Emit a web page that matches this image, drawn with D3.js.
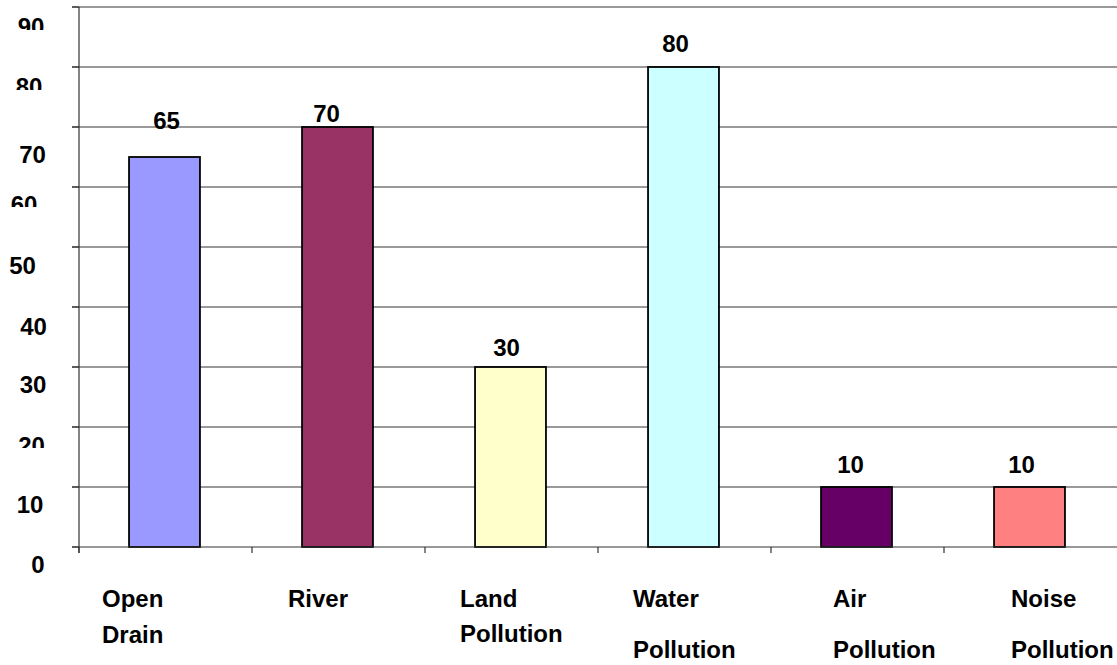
<!DOCTYPE html>
<html>
<head>
<meta charset="utf-8">
<script src="https://cdn.jsdelivr.net/npm/d3@7"></script>
<style>
  html, body { margin: 0; padding: 0; background: #fff; }
  svg { display: block; }
  text { font-family: "Liberation Sans", Arial, sans-serif; font-weight: bold; font-size: 24px; fill: #000; }
</style>
</head>
<body>
<svg id="chart" width="1117" height="665"></svg>
<script>
// Sources of pollution, percentage of responses
const categories = ["Open Drain", "River", "Land Pollution", "Water Pollution", "Air Pollution", "Noise Pollution"];
const categoryLines = [["Open", "Drain"], ["River"], ["Land", "Pollution"], ["Water", "Pollution"], ["Air", "Pollution"], ["Noise", "Pollution"]];
const values = [65, 70, 30, 80, 10, 10];
const barColors = ["#9999FF", "#993366", "#FFFFCC", "#CCFFFF", "#660066", "#FF8080"];
const yTicks = [0, 10, 20, 30, 40, 50, 60, 70, 80, 90];

const svg = d3.select("#chart");
const plotLeft = 79, plotRight = 1117, plotTop = 7, plotBottom = 547;

const x = d3.scaleBand().domain(categories).range([plotLeft, plotRight]).padding(0);
const y = d3.scaleLinear().domain([0, 90]).range([plotBottom, plotTop]);
const barW = x.bandwidth() * 0.41;

// horizontal gridlines
svg.append("g").selectAll("line")
  .data(yTicks.filter(t => t > 0))
  .join("line")
  .attr("x1", plotLeft - 7).attr("x2", plotRight)
  .attr("y1", d => y(d)).attr("y2", d => y(d))
  .attr("stroke", "#777").attr("stroke-width", 1.3);

// bars
svg.append("g").selectAll("rect")
  .data(values)
  .join("rect")
  .attr("x", (d, i) => x(categories[i]) + (x.bandwidth() - barW) / 2 - 1)
  .attr("y", d => y(d))
  .attr("width", barW)
  .attr("height", d => y(0) - y(d))
  .attr("fill", (d, i) => barColors[i])
  .attr("stroke", "#000").attr("stroke-width", 1.8);

// y axis line, ticks and baseline
const axis = svg.append("g").attr("stroke", "#333").attr("stroke-width", 1.2);
axis.append("line").attr("x1", plotLeft).attr("x2", plotLeft).attr("y1", plotTop).attr("y2", plotBottom + 6);
axis.append("line").attr("x1", plotLeft - 7).attr("x2", plotRight).attr("y1", y(0)).attr("y2", y(0));
axis.selectAll(".yt").data(yTicks).join("line")
  .attr("x1", plotLeft - 7).attr("x2", plotLeft)
  .attr("y1", d => y(d)).attr("y2", d => y(d));
axis.selectAll(".xt").data(categories).join("line")
  .attr("x1", d => x(d)).attr("x2", d => x(d))
  .attr("y1", plotBottom).attr("y2", plotBottom + 6);

// y tick labels (some are partially hidden by the frame of the label area)
const yLabelPos = {
  0:  { cx: 38, dy: 26 },
  10: { cx: 30, dy: 26 },
  20: { cx: 31.5, dy: 27, clipTo: 448 },
  30: { cx: 33, dy: 26 },
  40: { cx: 33.5, dy: 28 },
  50: { cx: 22.5, dy: 27 },
  60: { cx: 24, dy: 26, clipTo: 207 },
  70: { cx: 32.5, dy: 36 },
  80: { cx: 29, dy: 28, clipTo: 90 },
  90: { cx: 31, dy: 28, clipTo: 30 }
};
const defs = svg.append("defs");
yTicks.forEach(t => {
  const p = yLabelPos[t];
  const txt = svg.append("text")
    .attr("x", p.cx).attr("y", y(t) + p.dy)
    .attr("text-anchor", "middle")
    .text(t);
  if (p.clipTo !== undefined) {
    const id = "clip" + t;
    defs.append("clipPath").attr("id", id)
      .append("rect").attr("x", 0).attr("y", y(t)).attr("width", 70).attr("height", p.clipTo - y(t));
    txt.attr("clip-path", `url(#${id})`);
  }
});

// value labels above bars
const valueLabelShift = [{ dx: 2, dy: -28 }, { dx: -11, dy: -5 }, { dx: -4, dy: -11 }, { dx: -8, dy: -15 }, { dx: -6, dy: -14 }, { dx: -8, dy: -14 }];
svg.append("g").selectAll("text")
  .data(values)
  .join("text")
  .attr("text-anchor", "middle")
  .attr("x", (d, i) => x(categories[i]) + x.bandwidth() / 2 - 1 + valueLabelShift[i].dx)
  .attr("y", (d, i) => y(d) + valueLabelShift[i].dy)
  .text(d => d);

// category labels
const catLabelLayout = [
  { dx: 23, gap: 36 }, { dx: 36, gap: 36 }, { dx: 35, gap: 35 },
  { dx: 35, gap: 51 }, { dx: 62, gap: 51 }, { dx: 67, gap: 51 }
];
categories.forEach((c, i) => {
  const t = svg.append("text");
  categoryLines[i].forEach((line, j) => {
    t.append("tspan")
      .attr("x", x(c) + catLabelLayout[i].dx)
      .attr("y", 607 + j * catLabelLayout[i].gap)
      .text(line);
  });
});
</script>
</body>
</html>
